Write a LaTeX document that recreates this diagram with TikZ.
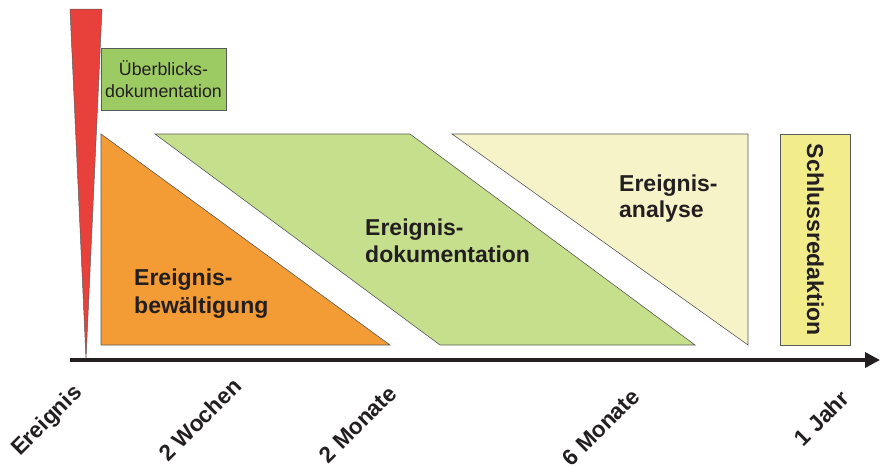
\documentclass[tikz,border=0pt]{standalone}
\usepackage{fontspec}
\setmainfont{Liberation Sans}
\usetikzlibrary{arrows.meta}
\definecolor{spikered}{HTML}{E8403A}
\definecolor{boxgreen}{HTML}{9DCB63}
\definecolor{phorange}{HTML}{F39B34}
\definecolor{phgreen}{HTML}{C5DF8D}
\definecolor{phcream}{HTML}{F6F3C9}
\definecolor{phyellow}{HTML}{F2EC8A}
\definecolor{inkc}{HTML}{231F20}
\definecolor{edgec}{HTML}{5A5A5A}
\tikzset{
  phase/.style={draw=edgec, line width=0.6pt, line join=miter},
  bigtxt/.style={inner sep=0pt, text=inkc, font=\fontsize{23}{27}\selectfont\bfseries},
  smalltxt/.style={inner sep=0pt, text=inkc, font=\fontsize{17.8}{22}\selectfont},
  axislbl/.style={inner sep=0pt, text=inkc, rotate=45, anchor=base east, font=\fontsize{22.5}{27}\selectfont\bfseries},
}
\begin{document}
\begin{tikzpicture}[x=1pt,y=-1pt]
\useasboundingbox[fill=white] (0,0) rectangle (880,466);
% red spike
\fill[spikered, draw=edgec, line width=0.5pt] (70,9) -- (102,9) -- (86,359) -- cycle;
% overview box
\node[phase, fill=boxgreen, minimum width=125pt, minimum height=62pt, inner sep=0pt, anchor=north west] (ueb) at (101,48) {};
\node[smalltxt, anchor=base] (ueb1) at (163.5,75) {Überblicks-};
\node[smalltxt, anchor=base] (ueb2) at (163.5,97) {dokumentation};
% phases
\filldraw[phase, fill=phorange] (101,134) -- (390,345) -- (101,345) -- cycle;
\filldraw[phase, fill=phgreen] (155,134) -- (410,134) -- (695,345) -- (440,345) -- cycle;
\filldraw[phase, fill=phcream] (452,134) -- (748,134) -- (748,345) -- cycle;
\node[phase, fill=phyellow, minimum width=70pt, minimum height=211pt, inner sep=0pt, anchor=north west] (schl) at (780,134) {};
% texts
\node[bigtxt, anchor=base west] (bew1) at (134,285) {Ereignis-};
\node[bigtxt, anchor=base west] (bew2) at (134,313) {bewältigung};
\node[bigtxt, anchor=base west] (dok1) at (365,235) {Ereignis-};
\node[bigtxt, anchor=base west] (dok2) at (365,262) {dokumentation};
\node[bigtxt, anchor=base west] (ana1) at (619,191) {Ereignis-};
\node[bigtxt, anchor=base west] (ana2) at (619,217) {analyse};
\node[bigtxt, rotate=-90] (schltxt) at (schl.center) {Schlussredaktion};
% axis
\coordinate (axs) at (70,360);
\coordinate (axe) at (880,360);
\draw[line width=3.5pt, draw=inkc, -{Triangle[length=15pt,width=15pt]}] (axs) -- (axe);
% axis labels
\node[axislbl] (l0) at (83,394) {Ereignis};
\node[axislbl] (l1) at (243,388) {2 Wochen};
\node[axislbl] (l2) at (398,395) {2 Monate};
\node[axislbl] (l3) at (641,398) {6 Monate};
\node[axislbl] (l4) at (851,400) {1 Jahr};
\end{tikzpicture}
\end{document}
